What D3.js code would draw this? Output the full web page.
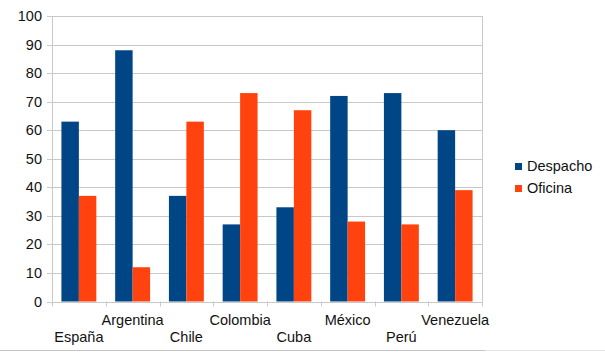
<!DOCTYPE html>
<html>
<head>
<meta charset="utf-8">
<script src="https://cdn.jsdelivr.net/npm/d3@7"></script>
<style>
  html, body { margin: 0; padding: 0; background: #fff; }
  svg { display: block; font-family: "Liberation Sans", Arial, sans-serif; }
</style>
</head>
<body>
<div id="chart"></div>
<script>
// data
const categories = ["España", "Argentina", "Chile", "Colombia", "Cuba", "México", "Perú", "Venezuela"];
const seriesNames = ["Despacho", "Oficina"];
const despacho = [63, 88, 37, 27, 33, 72, 73, 60];
const oficina = [37, 12, 63, 73, 67, 28, 27, 39];
const yTicks = [0, 10, 20, 30, 40, 50, 60, 70, 80, 90, 100];
const colors = ["#004586", "#ff420e"];

const width = 605;
const height = 352;
const margin = { top: 16, right: 123, bottom: 50.5, left: 52 };

const svg = d3.select("#chart")
    .append("svg")
    .attr("width", width)
    .attr("height", height);

const rows = categories.map((c, i) => ({ cat: c, values: [despacho[i], oficina[i]] }));

// scales
const x = d3.scaleBand()
    .domain(categories)
    .range([margin.left, width - margin.right])
    .padding(0);

const x1 = d3.scaleBand()
    .domain(seriesNames)
    .range([0, x.bandwidth()])
    .paddingInner(0)
    .paddingOuter(0.54);

const y = d3.scaleLinear()
    .domain([0, 100])
    .range([height - margin.bottom, margin.top]);

const color = d3.scaleOrdinal().domain(seriesNames).range(colors);

// grid
svg.append("g")
    .selectAll("line")
    .data(yTicks)
    .join("line")
    .attr("x1", margin.left - 5)
    .attr("x2", width - margin.right)
    .attr("y1", d => Math.round(y(d)) + 0.5)
    .attr("y2", d => Math.round(y(d)) + 0.5)
    .attr("stroke", "#c8c8c8")
    .attr("stroke-width", 1);

// left and right frame
[margin.left, width - margin.right].forEach(px => {
    svg.append("line")
        .attr("x1", px + 0.5).attr("x2", px + 0.5)
        .attr("y1", margin.top).attr("y2", y(0))
        .attr("stroke", "#c8c8c8");
});

// category ticks below the axis
svg.append("g")
    .selectAll("line")
    .data(categories.concat([null]))
    .join("line")
    .attr("x1", (d, i) => Math.round(margin.left + i * x.step()) + 0.5)
    .attr("x2", (d, i) => Math.round(margin.left + i * x.step()) + 0.5)
    .attr("y1", y(0))
    .attr("y2", y(0) + 5)
    .attr("stroke", "#c8c8c8");

// y labels
svg.append("g")
    .selectAll("text")
    .data(yTicks)
    .join("text")
    .attr("x", margin.left - 10)
    .attr("y", d => y(d) + 5)
    .attr("text-anchor", "end")
    .style("font-size", "14.5px")
    .style("fill", "#111")
    .text(d => d);

// bars
svg.append("g")
    .selectAll("g")
    .data(rows)
    .join("g")
    .attr("transform", d => `translate(${x(d.cat)},0)`)
    .selectAll("rect")
    .data(d => d.values.map((v, k) => ({ key: seriesNames[k], value: v })))
    .join("rect")
    .attr("x", d => x1(d.key))
    .attr("y", d => y(d.value))
    .attr("width", x1.bandwidth())
    .attr("height", d => y(0) - y(d.value))
    .attr("fill", d => color(d.key));

// x labels, staggered on two rows
svg.append("g")
    .selectAll("text")
    .data(categories)
    .join("text")
    .attr("x", d => x(d) + x.bandwidth() / 2)
    .attr("y", (d, i) => i % 2 === 0 ? 342 : 325)
    .attr("text-anchor", "middle")
    .style("font-size", "14.5px")
    .style("fill", "#111")
    .text(d => d);

// legend
const legend = svg.append("g").attr("transform", "translate(515,163)");
seriesNames.forEach((key, i) => {
    const g = legend.append("g").attr("transform", `translate(0,${i * 22})`);
    g.append("rect")
        .attr("width", 7)
        .attr("height", 7)
        .attr("fill", color(key));
    g.append("text")
        .attr("x", 12)
        .attr("y", 8)
        .style("font-size", "14.5px")
        .style("fill", "#111")
        .text(key);
});

// faint frame line at the bottom of the picture
svg.append("line")
    .attr("x1", 0).attr("x2", 485)
    .attr("y1", 350.5).attr("y2", 350.5)
    .attr("stroke", "#c4c4c4");
svg.append("line")
    .attr("x1", 485).attr("x2", width)
    .attr("y1", 350.5).attr("y2", 350.5)
    .attr("stroke", "#e4e4e4");
</script>
</body>
</html>
